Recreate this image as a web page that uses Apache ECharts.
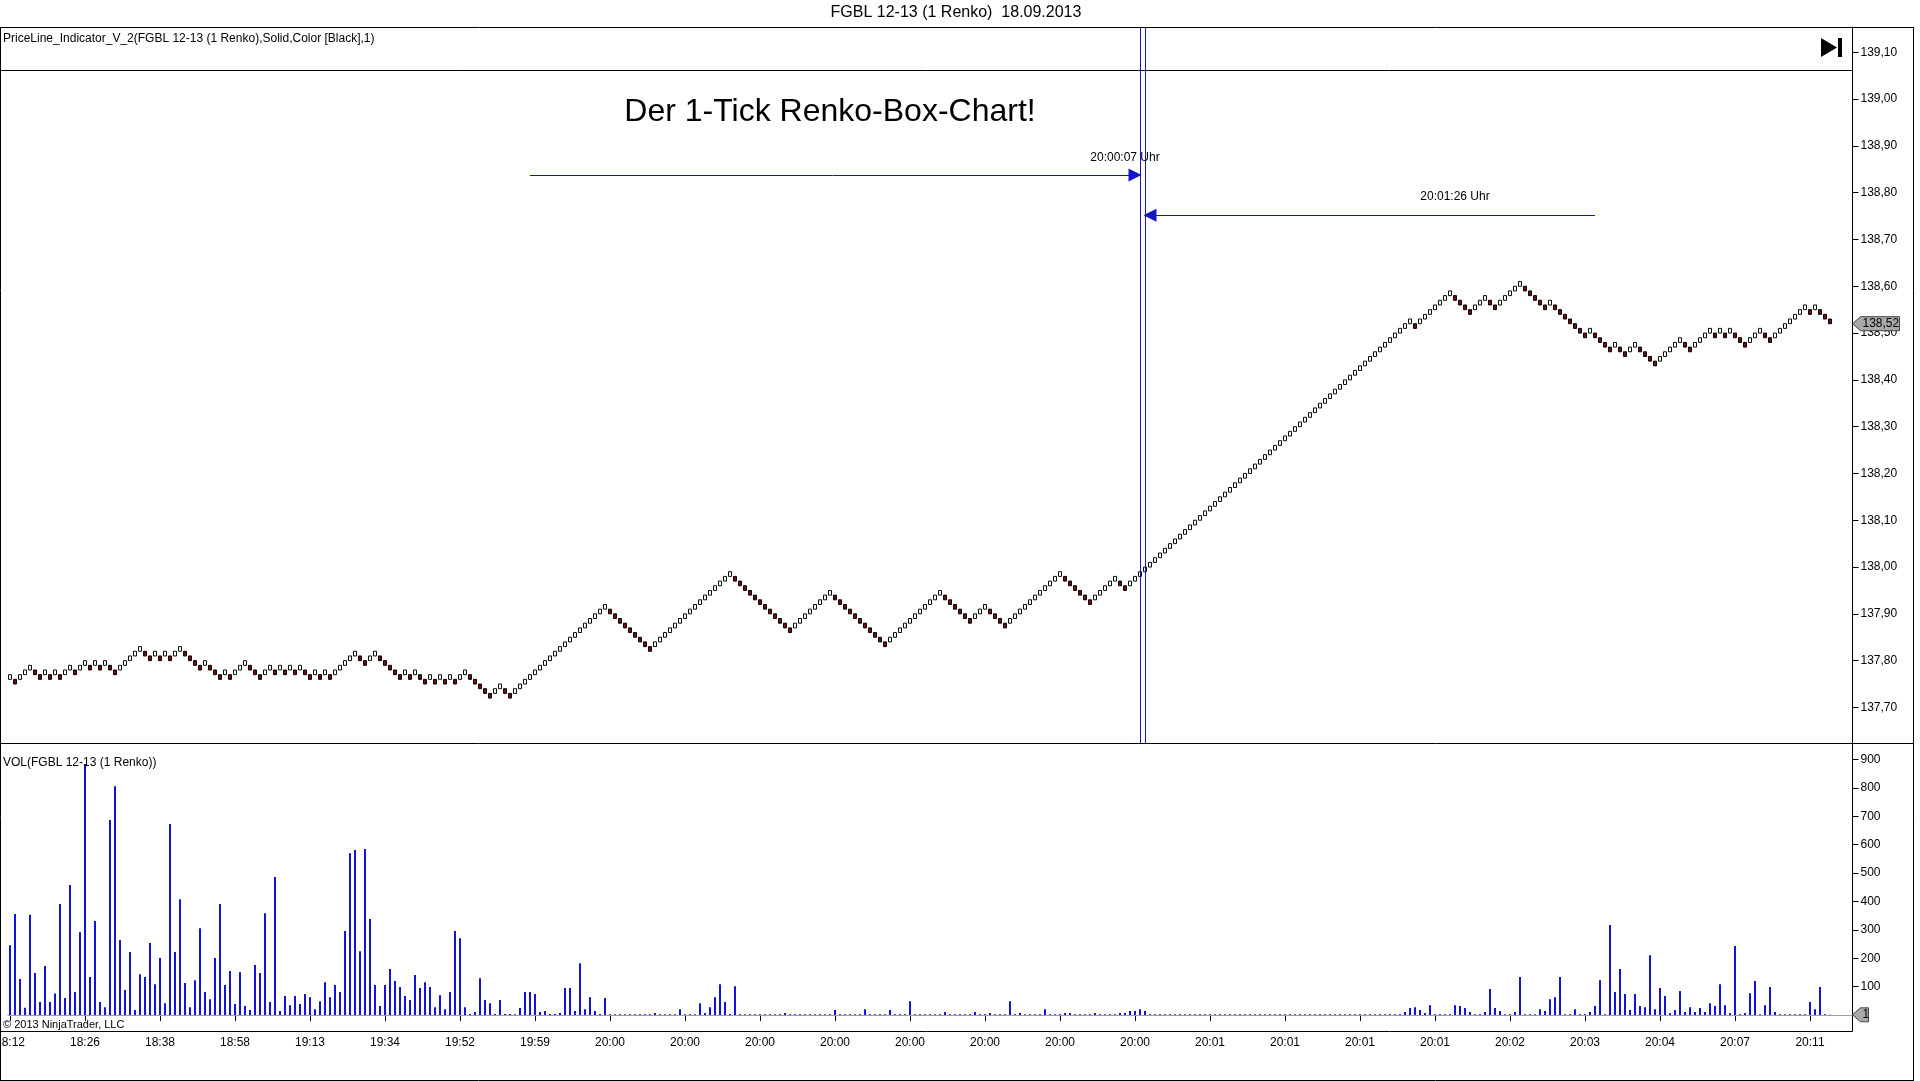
<!DOCTYPE html>
<html>
<head>
<meta charset="utf-8">
<title>FGBL 12-13 (1 Renko) 18.09.2013</title>
<script src="https://cdn.jsdelivr.net/npm/echarts@6.0.0/dist/echarts.min.js"></script>
<style>
html, body { margin: 0; padding: 0; background: #fff; }
#main { width: 1920px; height: 1081px; }
</style>
</head>
<body>
<div id="main"></div>
<script>
// time labels under the volume panel, one every 15 bricks
var tickLabels = ['18:12', '18:26', '18:38', '18:58', '19:13', '19:34', '19:52', '19:59',
  '20:00', '20:00', '20:00', '20:00', '20:00', '20:00', '20:00', '20:00',
  '20:01', '20:01', '20:01', '20:01', '20:02', '20:03', '20:04', '20:07', '20:11'];
var labelStep = 15;

// renko brick closes (1 tick = 0.01)
var firstOpen = 137.76;
var closes = [
  137.77,137.75,137.77,137.78,137.79,137.77,137.76,137.78,137.76,137.78,137.76,137.78,137.79,137.77,137.79,
  137.80,137.78,137.80,137.78,137.80,137.78,137.77,137.79,137.80,137.81,137.82,137.83,137.81,137.80,137.82,
  137.80,137.82,137.80,137.82,137.83,137.81,137.80,137.79,137.78,137.80,137.78,137.77,137.76,137.78,137.76,
  137.78,137.79,137.80,137.78,137.77,137.76,137.78,137.79,137.77,137.79,137.77,137.79,137.77,137.79,137.77,
  137.76,137.78,137.76,137.78,137.76,137.78,137.79,137.80,137.81,137.82,137.80,137.79,137.81,137.82,137.80,
  137.79,137.78,137.77,137.76,137.78,137.76,137.78,137.76,137.75,137.77,137.75,137.77,137.75,137.77,137.75,
  137.77,137.78,137.76,137.75,137.74,137.73,137.72,137.74,137.75,137.73,137.72,137.74,137.75,137.76,137.77,
  137.78,137.79,137.80,137.81,137.82,137.83,137.84,137.85,137.86,137.87,137.88,137.89,137.90,137.91,137.92,
  137.90,137.89,137.88,137.87,137.86,137.85,137.84,137.83,137.82,137.84,137.85,137.86,137.87,137.88,137.89,
  137.90,137.91,137.92,137.93,137.94,137.95,137.96,137.97,137.98,137.99,137.97,137.96,137.95,137.94,137.93,
  137.92,137.91,137.90,137.89,137.88,137.87,137.86,137.88,137.89,137.90,137.91,137.92,137.93,137.94,137.95,
  137.93,137.92,137.91,137.90,137.89,137.88,137.87,137.86,137.85,137.84,137.83,137.85,137.86,137.87,137.88,
  137.89,137.90,137.91,137.92,137.93,137.94,137.95,137.93,137.92,137.91,137.90,137.89,137.88,137.90,137.91,
  137.92,137.90,137.89,137.88,137.87,137.89,137.90,137.91,137.92,137.93,137.94,137.95,137.96,137.97,137.98,
  137.99,137.97,137.96,137.95,137.94,137.93,137.92,137.94,137.95,137.96,137.97,137.98,137.96,137.95,137.97,
  137.98,137.99,138.00,138.01,138.02,138.03,138.04,138.05,138.06,138.07,138.08,138.09,138.10,138.11,138.12,
  138.13,138.14,138.15,138.16,138.17,138.18,138.19,138.20,138.21,138.22,138.23,138.24,138.25,138.26,138.27,
  138.28,138.29,138.30,138.31,138.32,138.33,138.34,138.35,138.36,138.37,138.38,138.39,138.40,138.41,138.42,
  138.43,138.44,138.45,138.46,138.47,138.48,138.49,138.50,138.51,138.52,138.53,138.51,138.53,138.54,138.55,
  138.56,138.57,138.58,138.59,138.57,138.56,138.55,138.54,138.56,138.57,138.58,138.56,138.55,138.57,138.58,
  138.59,138.60,138.61,138.59,138.58,138.57,138.56,138.55,138.57,138.55,138.54,138.53,138.52,138.51,138.50,
  138.49,138.51,138.49,138.48,138.47,138.46,138.48,138.46,138.45,138.47,138.48,138.46,138.45,138.44,138.43,
  138.45,138.46,138.47,138.48,138.49,138.47,138.46,138.48,138.49,138.50,138.51,138.49,138.51,138.49,138.51,
  138.49,138.48,138.47,138.49,138.50,138.51,138.49,138.48,138.50,138.51,138.52,138.53,138.54,138.55,138.56,
  138.54,138.56,138.54,138.53,138.52
];

// volume per brick
var volumes = [
  246,356,127,26,353,148,46,173,46,76,391,60,458,81,292,
  884,134,331,46,28,687,806,264,88,222,18,144,134,254,109,
  201,42,673,222,408,113,28,123,306,81,56,201,391,106,155,
  39,151,32,18,176,148,359,46,486,14,67,35,67,39,74,
  63,21,49,116,63,106,81,296,570,581,225,585,338,106,32,
  106,162,120,99,67,53,141,95,116,99,28,70,21,81,296,
  271,28,4,11,130,53,42,4,53,4,4,3,25,81,81,
  74,11,14,4,4,7,95,95,14,183,21,63,14,4,60,
  3,3,3,3,3,3,3,3,3,7,3,3,3,3,21,
  3,3,3,42,7,28,63,109,46,4,102,3,3,3,3,
  3,3,3,3,3,7,3,3,3,3,3,3,3,3,3,
  18,3,3,3,3,3,21,3,3,3,3,18,3,3,3,
  49,3,3,3,3,3,3,11,3,3,3,3,3,11,3,
  3,7,3,3,3,49,3,7,3,3,3,3,21,3,3,
  3,7,7,3,3,3,3,7,3,3,3,3,7,7,14,
  14,21,14,3,3,3,3,3,3,3,3,3,3,3,3,
  3,3,3,3,3,3,3,3,3,3,3,3,3,3,3,
  3,3,3,3,3,3,3,3,3,3,3,3,3,3,3,
  3,3,3,3,3,3,3,3,3,11,25,28,18,7,35,
  3,3,3,3,35,32,25,11,3,3,11,92,25,14,3,
  3,11,134,3,3,3,21,14,56,63,134,3,3,21,3,
  3,11,32,123,3,317,81,162,74,18,74,32,28,211,21,
  95,67,7,18,85,11,28,11,25,11,42,32,109,35,7,
  243,3,7,77,120,3,35,99,11,3,3,3,3,3,3,
  46,21,99,3,1
];

// drawn arrows (brick index, price) and the two vertical marker lines
var arrowLines = [
  { from: 104, to: 225, price: 138.838, text: '20:00:07 Uhr', textAt: [223, 138.874] },
  { from: 317, to: 228, price: 138.752, text: '20:01:26 Uhr', textAt: [289, 138.791] }
];
var markerBricks = [226, 227];
var padBricks = 4;   // empty space right of the last brick

var FONT = "'Liberation Sans', Arial, sans-serif";
var priceMin = 137.624, priceMax = 139.154;
var volMin = -56, volMax = 954.6;
var plotLeft = 7.5, plotWidth = 1845;
var axisX = plotLeft + plotWidth;

var tick = 0.01;
function round2(v) { return Math.round(v * 100) / 100; }

// renko brick -> [open, close, low, high]
var bricks = closes.map(function (c, i) {
  var prev = i === 0 ? firstOpen : closes[i - 1];
  var open = c > prev ? round2(c - tick) : round2(c + tick);
  return [open, c, Math.min(open, c), Math.max(open, c)];
});

var cats = [];
for (var i = 0; i < closes.length + padBricks; i++) cats.push(String(i));

function isLabelled(idx) {
  return idx % labelStep === 0 && idx / labelStep < tickLabels.length;
}
function priceFmt(v) {
  if (Math.abs(v * 10 - Math.round(v * 10)) > 1e-6) return '';
  return v.toFixed(2).replace('.', ',');
}
function volFmt(v) {
  return (v > 0 && Math.abs(v % 100) < 1e-6) ? String(Math.round(v)) : '';
}

var myChart = echarts.init(document.getElementById('main'), null, { renderer: 'canvas' });

var arrowData = arrowLines.map(function (a) {
  return [{ coord: [a.from, a.price], symbol: 'none' }, { coord: [a.to, a.price], symbol: 'triangle' }];
});
var vertData = markerBricks.map(function (b) {
  return [{ coord: [b, priceMax], symbol: 'none' }, { coord: [b, priceMin], symbol: 'none' }];
});

var option = {
  animation: false,
  backgroundColor: '#ffffff',
  textStyle: { fontFamily: FONT },
  grid: [
    { left: plotLeft, top: 27, width: plotWidth, height: 716, outerBoundsMode: 'none', containLabel: false },
    { left: plotLeft, top: 744, width: plotWidth, height: 287, outerBoundsMode: 'none', containLabel: false }
  ],
  xAxis: [
    {
      type: 'category', gridIndex: 0, data: cats, boundaryGap: true,
      axisLine: { show: false }, axisTick: { show: false }, axisLabel: { show: false }, splitLine: { show: false }
    },
    {
      type: 'category', gridIndex: 1, data: cats, boundaryGap: true,
      axisLine: { show: false },
      axisTick: { show: true, alignWithLabel: true, interval: isLabelled, length: 6, lineStyle: { color: '#000' } },
      axisLabel: {
        interval: isLabelled, margin: 6, fontSize: 12, color: '#000', fontFamily: FONT,
        formatter: function (v, idx) { return tickLabels[idx / labelStep] || ''; }
      },
      splitLine: { show: false }
    }
  ],
  yAxis: [
    {
      type: 'value', gridIndex: 0, position: 'right', min: priceMin, max: priceMax,
      splitNumber: 16, minInterval: 0.1, maxInterval: 0.1,
      axisLine: { show: true, lineStyle: { color: '#000', width: 1 } },
      axisTick: { show: true, length: 6, lineStyle: { color: '#000' } },
      axisLabel: { formatter: priceFmt, fontSize: 12, color: '#000', margin: 8, fontFamily: FONT,
        showMinLabel: false, showMaxLabel: false },
      splitLine: { show: false }
    },
    {
      type: 'value', gridIndex: 1, position: 'right', min: volMin, max: volMax,
      splitNumber: 10, minInterval: 100, maxInterval: 100,
      axisLine: { show: true, lineStyle: { color: '#000', width: 1 } },
      axisTick: { show: true, length: 6, lineStyle: { color: '#000' } },
      axisLabel: { formatter: volFmt, fontSize: 12, color: '#000', margin: 8, fontFamily: FONT,
        showMinLabel: false, showMaxLabel: false },
      splitLine: { show: false }
    }
  ],
  series: [
    {
      name: 'FGBL 12-13 (1 Renko)', type: 'candlestick', xAxisIndex: 0, yAxisIndex: 0,
      data: bricks, barWidth: 3,
      itemStyle: { color: '#ffffff', color0: '#6e0e0e', borderColor: '#051005', borderColor0: '#0a0202', borderWidth: 1 },
      markLine: {
        silent: true, animation: false,
        symbol: ['none', 'triangle'], symbolSize: 13,
        label: { show: false },
        emphasis: { disabled: true },
        lineStyle: { color: '#1414c8', width: 1, type: 'solid' },
        data: arrowData.concat(vertData)
      }
    },
    {
      name: 'VOL', type: 'bar', xAxisIndex: 1, yAxisIndex: 1,
      data: volumes, barWidth: 2,
      itemStyle: { color: '#1212dc' },
      markLine: {
        silent: true, animation: false, symbol: 'none',
        label: { show: false },
        emphasis: { disabled: true },
        lineStyle: { color: '#a0a0a0', width: 1, type: 'solid' },
        data: [{ yAxis: volumes[volumes.length - 1] }]
      }
    }
  ]
};
myChart.setOption(option);

// chrome: frame, captions, current value markers
function hLine(x1, x2, y) {
  return { type: 'line', z: 50, shape: { x1: x1, y1: y, x2: x2, y2: y }, style: { stroke: '#000', lineWidth: 1 } };
}
function vLine(x, y1, y2) {
  return { type: 'line', z: 50, shape: { x1: x, y1: y1, x2: x, y2: y2 }, style: { stroke: '#000', lineWidth: 1 } };
}
function label(x, y, text, size, align) {
  return { type: 'text', z: 60, x: x, y: y,
    style: { text: text, fontSize: size, fontFamily: FONT, fill: '#000', align: align || 'left', verticalAlign: 'middle' } };
}
function valueTag(y, text, w) {
  return [
    { type: 'polygon', z: 70, shape: { points: [[axisX, y], [axisX + 8, y - 7], [axisX + w, y - 7], [axisX + w, y + 7], [axisX + 8, y + 7]] },
      style: { fill: '#a9a9a9', stroke: '#444', lineWidth: 1 } },
    { type: 'text', z: 71, x: axisX + 10, y: y,
      style: { text: text, fontSize: 12, fontFamily: FONT, fill: '#000', align: 'left', verticalAlign: 'middle' } }
  ];
}

var lastClose = closes[closes.length - 1];
var lastVol = volumes[volumes.length - 1];
var yClose = myChart.convertToPixel({ yAxisIndex: 0 }, lastClose);
var yVol = myChart.convertToPixel({ yAxisIndex: 1 }, lastVol);

var graphics = [
  hLine(0, 1914, 27.5), hLine(0, 1914, 1080.5), vLine(0.5, 27, 1081), vLine(1913.5, 27, 1081),
  hLine(0, axisX, 70.5), hLine(0, 1914, 743.5), hLine(0, axisX, 1031.5),
  label(956, 13, 'FGBL 12-13 (1 Renko)  18.09.2013', 16, 'center'),
  label(3, 39, 'PriceLine_Indicator_V_2(FGBL 12-13 (1 Renko),Solid,Color [Black],1)', 12),
  label(3, 763, 'VOL(FGBL 12-13 (1 Renko))', 12),
  label(3, 1025, '\u00a9 2013 NinjaTrader, LLC', 11),
  label(830, 112, 'Der 1-Tick Renko-Box-Chart!', 32, 'center'),
  { type: 'polygon', z: 60, shape: { points: [[1821, 38], [1821, 57], [1837, 47.5]] }, style: { fill: '#000' } },
  { type: 'rect', z: 60, shape: { x: 1838, y: 38, width: 4, height: 19 }, style: { fill: '#000' } }
];
arrowLines.forEach(function (a) {
  var p = myChart.convertToPixel({ xAxisIndex: 0, yAxisIndex: 0 }, a.textAt);
  graphics.push(label(p[0], p[1], a.text, 12, 'center'));
});
graphics = graphics.concat(
  valueTag(yClose, lastClose.toFixed(2).replace('.', ','), 47),
  valueTag(yVol, String(lastVol), 16)
);

myChart.setOption({ graphic: graphics });
</script>
</body>
</html>
